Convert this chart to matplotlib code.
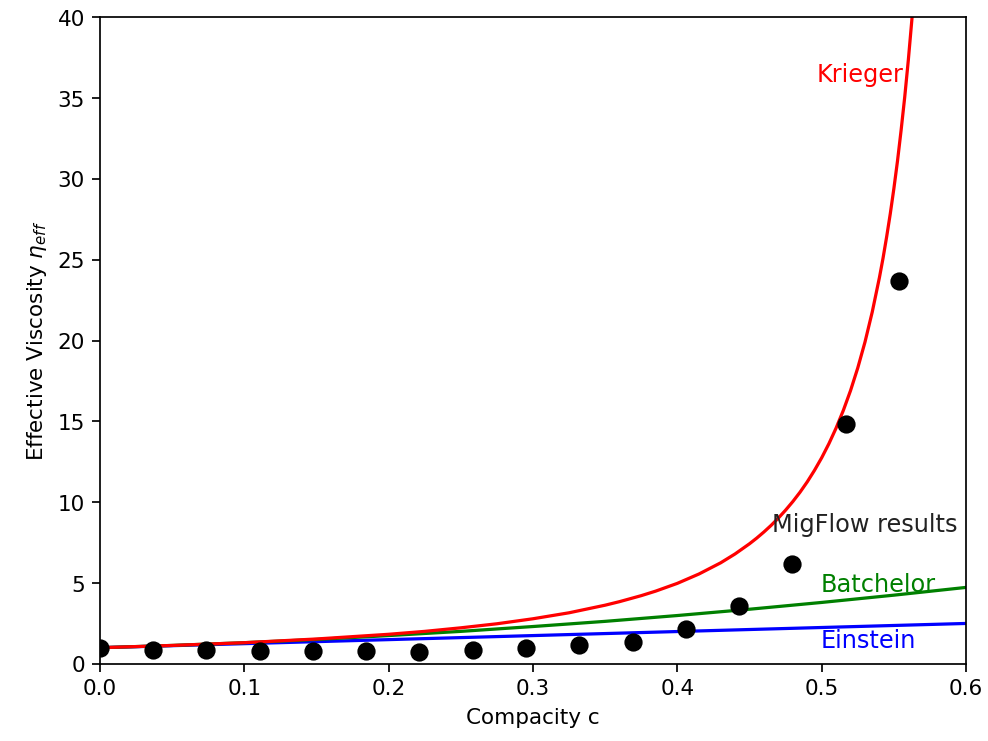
import matplotlib
matplotlib.use('Agg')
import matplotlib.pyplot as plt

# MigFlow simulation results
c_sim = [0.0, 0.0369, 0.0738, 0.1107, 0.1476, 0.1845, 0.2214, 0.2583,
         0.2952, 0.3321, 0.369, 0.4059, 0.4428, 0.4797, 0.5166, 0.5535]
eta_sim = [1.0, 0.87, 0.87, 0.77, 0.77, 0.77, 0.76, 0.85,
           0.97, 1.18, 1.38, 2.15, 3.6, 6.18, 14.86, 23.71]

# model curves
c_ein = [0.0, 0.1, 0.2, 0.3, 0.4, 0.5, 0.6]
eta_ein = [1.0, 1.25, 1.5, 1.75, 2.0, 2.25, 2.5]

c_bat = [0.0, 0.05, 0.1, 0.15, 0.2, 0.25, 0.3, 0.35, 0.4, 0.45, 0.5, 0.55, 0.6]
eta_bat = [1.0, 1.14, 1.31, 1.51, 1.75, 2.01, 2.31, 2.63, 2.99, 3.38, 3.80, 4.25, 4.73]

c_kri = [0.0, 0.05, 0.1, 0.15, 0.2, 0.225, 0.25, 0.275, 0.3, 0.325, 0.35, 0.36,
         0.375, 0.385, 0.4, 0.415, 0.43, 0.44, 0.45, 0.455, 0.46, 0.465, 0.47,
         0.475, 0.48, 0.485, 0.49, 0.495, 0.5, 0.505, 0.51, 0.515, 0.52, 0.525,
         0.53, 0.535, 0.54, 0.5425, 0.545, 0.5475, 0.55, 0.5525, 0.555, 0.5575,
         0.56, 0.5625, 0.565]
eta_kri = [1.0, 1.14, 1.31, 1.54, 1.83, 2.01, 2.23, 2.48, 2.79, 3.16, 3.63, 3.85,
           4.22, 4.50, 4.98, 5.56, 6.25, 6.80, 7.43, 7.78, 8.16, 8.57, 9.02,
           9.51, 10.04, 10.62, 11.26, 11.97, 12.75, 13.62, 14.59, 15.68, 16.91, 18.31,
           19.91, 21.76, 23.90, 25.10, 26.42, 27.84, 29.40, 31.10, 33.0, 35.05,
           37.34, 39.88, 42.72]

fig, ax = plt.subplots(figsize=(6.4, 4.8), dpi=154.5)
fig.subplots_adjust(left=0.101, right=0.977, bottom=0.104, top=0.976)

ax.plot(c_ein, eta_ein, color='b')
ax.plot(c_bat, eta_bat, color='g')
ax.plot(c_kri, eta_kri, color='r')
ax.plot(c_sim, eta_sim, 'ko', ms=7.5)

ax.text(0.4965, 36.0, 'Krieger', color='r', fontsize=11.2)
ax.text(0.4655, 8.2, 'MigFlow results', color='#222222', fontsize=11.2)
ax.text(0.4995, 4.5, 'Batchelor', color='g', fontsize=11.2)
ax.text(0.4995, 1.0, 'Einstein', color='b', fontsize=11.2)

ax.set_xlim(0, 0.6)
ax.set_ylim(0, 40)
ax.set_xlabel('Compacity c')
ax.set_ylabel(r'Effective Viscosity $\eta_{eff}$')

fig.savefig('out.png')
